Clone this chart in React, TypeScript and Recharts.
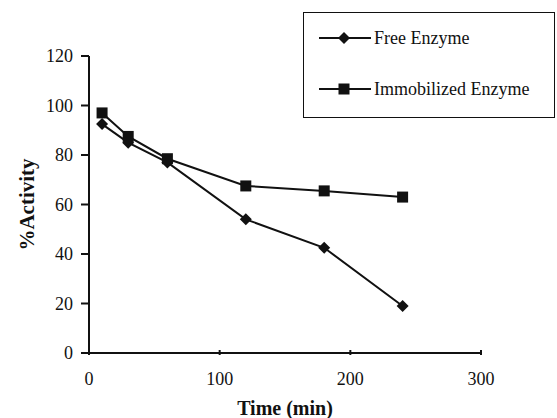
import React from "react";
import { Label, Line, LineChart, XAxis, YAxis } from "recharts";

// time points (min)
const timeMin = [10, 30, 60, 120, 180, 240];
const freeEnzyme = [92.5, 85, 77, 54, 42.5, 19];
const immobilizedEnzyme = [97, 87.5, 78.5, 67.5, 65.5, 63];

const xTicks = [0, 100, 200, 300];
const yTicks = [0, 20, 40, 60, 80, 100, 120];

const seriesNames = ["Free Enzyme", "Immobilized Enzyme"];

const data = timeMin.map((t, i) => ({ t, free: freeEnzyme[i], immob: immobilizedEnzyme[i] }));

const FONT = '"Liberation Serif", "Times New Roman", serif';
const INK = "#111";

const Diamond = (props: any) => {
  const { cx, cy, size = 6 } = props;
  if (cx == null || cy == null) return null;
  return (
    <polygon
      points={`${cx},${cy - size} ${cx + size},${cy} ${cx},${cy + size} ${cx - size},${cy}`}
      fill={INK}
    />
  );
};

const Square = (props: any) => {
  const { cx, cy, size = 5.5 } = props;
  if (cx == null || cy == null) return null;
  return <rect x={cx - size} y={cy - size} width={size * 2} height={size * 2} fill={INK} />;
};

const XTick = (props: any) => {
  const { x, y, payload } = props;
  return (
    <g>
      <line x1={x} y1={y} x2={x} y2={y - 5} stroke={INK} strokeWidth={2} />
      <text x={x} y={y + 30} textAnchor="middle" fontSize={18} fontFamily={FONT} fill={INK}>
        {payload.value}
      </text>
    </g>
  );
};

// legend is drawn as a plain box over the chart, like the original figure
const LegendBox = () => {
  const shapes = ["diamond", "square"];
  return (
    <div
      style={{
        position: "absolute",
        left: 303,
        top: 12,
        border: `1px solid ${INK}`,
        width: 252,
        height: 106,
        boxSizing: "border-box",
        fontFamily: FONT,
        fontSize: 18,
        color: INK,
        paddingTop: 12,
        background: "#fff",
      }}
    >
      {seriesNames.map((name, i) => (
        <div key={name} style={{ display: "flex", alignItems: "center", height: 26, marginBottom: 25 }}>
          <svg width={70} height={16} style={{ flex: "none" }}>
            <line x1={15} y1={8} x2={67} y2={8} stroke={INK} strokeWidth={2} />
            {shapes[i] === "diamond" ? <Diamond cx={40} cy={8} size={6} /> : <Square cx={40} cy={8} size={5.5} />}
          </svg>
          <span>{name}</span>
        </div>
      ))}
    </div>
  );
};

export default function App() {
  return (
    <div style={{ position: "absolute", left: 0, top: 0, width: 557, height: 418, background: "#fff" }}>
      <LineChart width={557} height={418} data={data} margin={{ top: 56, right: 76, left: 29, bottom: 0 }}>
        <XAxis
          dataKey="t"
          type="number"
          domain={[0, 300]}
          ticks={xTicks}
          height={65}
          axisLine={{ stroke: INK, strokeWidth: 2 }}
          tickLine={false}
          tickSize={0}
          tick={<XTick />}
        >
          <Label
            content={({ viewBox }: any) => (
              <text
                x={viewBox.x + viewBox.width / 2}
                y={415}
                textAnchor="middle"
                fontSize={20}
                fontWeight="bold"
                fontFamily={FONT}
                fill={INK}
              >
                Time (min)
              </text>
            )}
          />
        </XAxis>
        <YAxis
          type="number"
          domain={[0, 120]}
          ticks={yTicks}
          width={60}
          axisLine={{ stroke: INK, strokeWidth: 2 }}
          tickLine={{ stroke: INK, strokeWidth: 2 }}
          tickSize={8}
          tickMargin={8}
          tick={{ fontSize: 18, fontFamily: FONT, fill: INK }}
        >
          <Label
            content={({ viewBox }: any) => {
              const cy = viewBox.y + viewBox.height / 2;
              return (
                <text
                  x={34}
                  y={cy}
                  transform={`rotate(-90 34 ${cy})`}
                  textAnchor="middle"
                  fontSize={21}
                  fontWeight="bold"
                  fontFamily={FONT}
                  fill={INK}
                >
                  %Activity
                </text>
              );
            }}
          />
        </YAxis>
        <Line
          dataKey="free"
          name={seriesNames[0]}
          stroke={INK}
          strokeWidth={2}
          dot={<Diamond />}
          activeDot={false}
          isAnimationActive={false}
        />
        <Line
          dataKey="immob"
          name={seriesNames[1]}
          stroke={INK}
          strokeWidth={2}
          dot={<Square />}
          activeDot={false}
          isAnimationActive={false}
        />
      </LineChart>
      <LegendBox />
    </div>
  );
}
